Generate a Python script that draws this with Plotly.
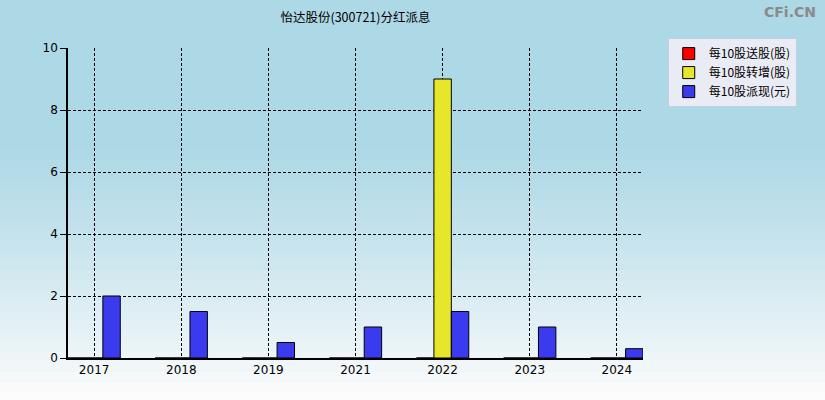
import plotly.graph_objects as go

years = ["2017", "2018", "2019", "2021", "2022", "2023", "2024"]
song_gu = [0, 0, 0, 0, 0, 0, 0]
zhuan_zeng = [0, 0, 0, 0, 9, 0, 0]
pai_xian = [2, 1.5, 0.5, 1, 1.5, 1, 0.3]

series_names = ["每10股送股(股)", "每10股转增(股)", "每10股派现(元)"]
series_colors = ["#ff0000", "#e6e62a", "#3a3aee"]

fig = go.Figure()
for name, vals, color in zip(series_names, [song_gu, zhuan_zeng, pai_xian], series_colors):
    fig.add_trace(
        go.Bar(
            x=years,
            y=vals,
            name=name,
            marker=dict(color=color, line=dict(color="black", width=1)),
        )
    )

# background gradient: light blue at top fading to near white at the bottom
top = (173, 216, 230)
bottom = (252, 252, 252)
steps = 40
y_top, y_bot = 1.16, -0.14
shapes = []
for i in range(steps):
    t = i / (steps - 1)
    w = max(0.0, (t - 0.35) / 0.65) ** 1.2
    c = tuple(round(top[k] + (bottom[k] - top[k]) * w) for k in range(3))
    y0 = y_top - (y_top - y_bot) * i / steps
    y1 = y_top - (y_top - y_bot) * (i + 1) / steps
    shapes.append(dict(
        type="rect", xref="paper", yref="paper",
        x0=-0.13, x1=1.33, y0=y1 - 0.002, y1=y0,
        fillcolor="rgb(%d,%d,%d)" % c, line=dict(width=0), layer="below",
    ))

fig.update_layout(
    width=825,
    height=400,
    margin=dict(l=68, r=182, t=48, b=42),
    paper_bgcolor="rgb(173,216,230)",
    plot_bgcolor="rgba(0,0,0,0)",
    barmode="group",
    bargap=0.4,
    bargroupgap=0,
    shapes=shapes,
    font=dict(family="Noto Sans CJK SC, Noto Sans, sans-serif", size=12, color="black"),
    title=dict(
        text="怡达股份(300721)分红派息",
        x=0.5, xref="paper", xanchor="center",
        y=0.955, yanchor="middle",
        font=dict(size=12.5, color="black"),
    ),
    legend=dict(
        x=1.043, y=1.032, xanchor="left", yanchor="top",
        bgcolor="#eaecf5", bordercolor="#c4cede", borderwidth=1,
        font=dict(size=12, color="black"),
        tracegroupgap=0, itemwidth=30,
    ),
    xaxis=dict(
        type="category",
        range=[-0.3, 6.3],
        showgrid=True, gridcolor="black", griddash="3px,2px", gridwidth=1,
        showline=True, linecolor="black", linewidth=1.5,
        ticks="", tickfont=dict(size=12, family="DejaVu Sans, Liberation Sans"),
        fixedrange=True,
    ),
    yaxis=dict(
        range=[0, 10],
        tickvals=[0, 2, 4, 6, 8, 10],
        showgrid=True, gridcolor="black", griddash="3px,2px", gridwidth=1,
        showline=True, linecolor="black", linewidth=1.5,
        ticks="outside", ticklen=6, tickcolor="black",
        tickfont=dict(size=12, family="DejaVu Sans, Liberation Sans"),
        zeroline=False,
    ),
    annotations=[
        dict(
            text="<b>CFi.CN</b>", xref="paper", yref="paper",
            x=1.305, y=1.15, xanchor="right", yanchor="top",
            showarrow=False, font=dict(size=14, color="#8a8a8a", family="DejaVu Sans, Liberation Sans"),
        )
    ],
)

fig.write_html(
    "out.html",
    config={"displayModeBar": False},
    post_script="document.body.style.margin='0';",
)
